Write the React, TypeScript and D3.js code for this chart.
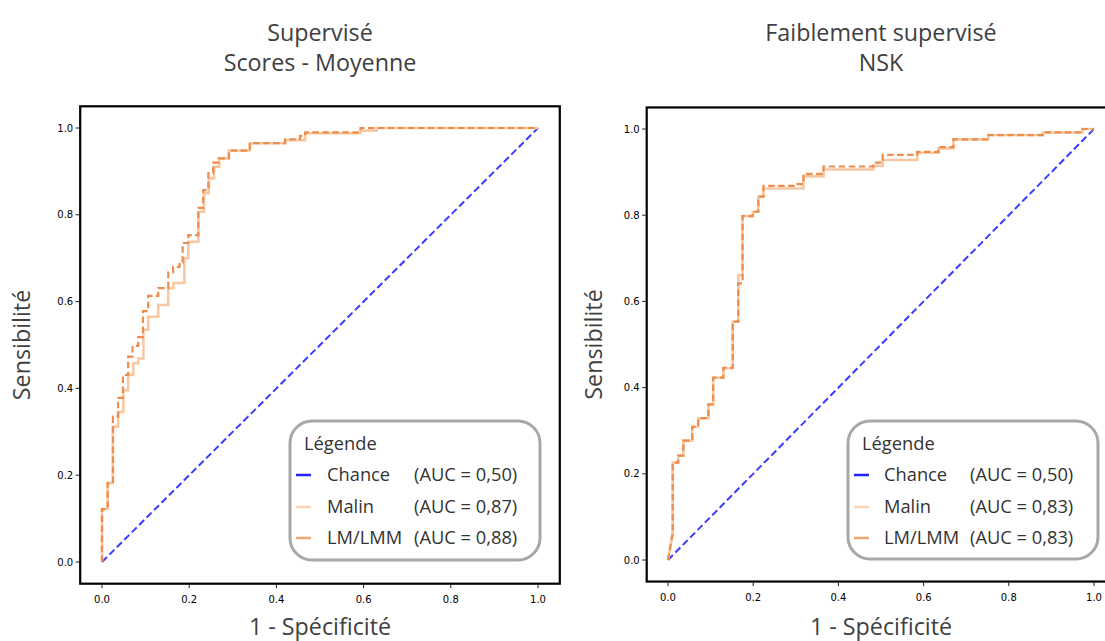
import React from "react";
import * as d3 from "d3";

type Pt = [number, number];

// ---------- DATA ----------
const xTicks = [0, 0.2, 0.4, 0.6, 0.8, 1.0];
const yTicks = [0, 0.2, 0.4, 0.6, 0.8, 1.0];

const chanceCurve: Pt[] = [[0, 0], [1, 1]];

// Supervisé – Scores - Moyenne
const supMalin: Pt[] = [
  [0, 0], [0, 0.122], [0.013, 0.122], [0.013, 0.182], [0.025, 0.182], [0.025, 0.312],
  [0.037, 0.312], [0.037, 0.346], [0.049, 0.346], [0.049, 0.396], [0.06, 0.396],
  [0.06, 0.431], [0.072, 0.431], [0.072, 0.458], [0.083, 0.458], [0.083, 0.469],
  [0.095, 0.469], [0.095, 0.535], [0.106, 0.535], [0.106, 0.565], [0.129, 0.565],
  [0.129, 0.592], [0.152, 0.592], [0.152, 0.631], [0.164, 0.631], [0.164, 0.643],
  [0.189, 0.643], [0.189, 0.70], [0.198, 0.70], [0.198, 0.738], [0.221, 0.738],
  [0.221, 0.807], [0.234, 0.807], [0.234, 0.85], [0.245, 0.85], [0.245, 0.884],
  [0.257, 0.884], [0.257, 0.911], [0.269, 0.911], [0.269, 0.93], [0.291, 0.93],
  [0.291, 0.948], [0.339, 0.948], [0.339, 0.965], [0.42, 0.965], [0.42, 0.972],
  [0.466, 0.972], [0.466, 0.988], [0.593, 0.988], [0.593, 0.994], [0.63, 0.994],
  [0.63, 1.0], [1, 1],
];
const supLm: Pt[] = [
  [0, 0], [0, 0.122], [0.013, 0.122], [0.013, 0.182], [0.025, 0.182], [0.025, 0.335],
  [0.037, 0.335], [0.037, 0.378], [0.048, 0.378], [0.048, 0.431], [0.06, 0.431],
  [0.06, 0.473], [0.07, 0.473], [0.07, 0.498], [0.083, 0.498], [0.083, 0.518],
  [0.094, 0.518], [0.094, 0.578], [0.106, 0.578], [0.106, 0.613], [0.129, 0.613],
  [0.129, 0.631], [0.152, 0.631], [0.152, 0.667], [0.163, 0.667], [0.163, 0.68],
  [0.178, 0.68], [0.178, 0.69], [0.185, 0.69], [0.185, 0.735], [0.198, 0.735],
  [0.198, 0.753], [0.221, 0.753], [0.221, 0.816], [0.232, 0.816], [0.232, 0.857],
  [0.244, 0.857], [0.244, 0.896], [0.255, 0.896], [0.255, 0.92], [0.267, 0.92],
  [0.267, 0.93], [0.291, 0.93], [0.291, 0.948], [0.339, 0.948], [0.339, 0.965],
  [0.42, 0.965], [0.42, 0.974], [0.454, 0.974], [0.454, 0.982], [0.466, 0.982],
  [0.466, 0.99], [0.593, 0.99], [0.593, 1.0], [1, 1],
];

// Faiblement supervisé – NSK
const wsMalin: Pt[] = [
  [0, 0], [0.011, 0.062], [0.011, 0.226], [0.024, 0.226], [0.024, 0.242], [0.036, 0.242],
  [0.036, 0.277], [0.057, 0.277], [0.057, 0.309], [0.071, 0.309], [0.071, 0.329],
  [0.095, 0.329], [0.095, 0.361], [0.106, 0.361], [0.106, 0.423], [0.13, 0.423],
  [0.13, 0.445], [0.152, 0.445], [0.152, 0.553], [0.165, 0.553], [0.165, 0.661],
  [0.175, 0.661], [0.175, 0.798], [0.199, 0.798], [0.199, 0.808], [0.212, 0.808],
  [0.212, 0.843], [0.224, 0.843], [0.224, 0.862], [0.318, 0.862], [0.318, 0.89],
  [0.365, 0.89], [0.365, 0.906], [0.482, 0.906], [0.482, 0.914], [0.504, 0.914],
  [0.504, 0.928], [0.585, 0.928], [0.585, 0.945], [0.635, 0.945], [0.635, 0.955],
  [0.67, 0.955], [0.67, 0.976], [0.752, 0.976], [0.752, 0.986], [0.88, 0.986],
  [0.88, 0.992], [0.973, 0.992], [0.973, 1.0], [1, 1],
];
const wsLm: Pt[] = [
  [0, 0], [0.011, 0.062], [0.011, 0.226], [0.024, 0.226], [0.024, 0.242], [0.036, 0.242],
  [0.036, 0.277], [0.057, 0.277], [0.057, 0.309], [0.071, 0.309], [0.071, 0.329],
  [0.095, 0.329], [0.095, 0.361], [0.106, 0.361], [0.106, 0.423], [0.13, 0.423],
  [0.13, 0.446], [0.152, 0.446], [0.152, 0.553], [0.165, 0.553], [0.165, 0.642],
  [0.175, 0.642], [0.175, 0.798], [0.199, 0.798], [0.199, 0.808], [0.212, 0.808],
  [0.212, 0.843], [0.224, 0.843], [0.224, 0.868], [0.295, 0.868], [0.295, 0.872],
  [0.318, 0.872], [0.318, 0.896], [0.365, 0.896], [0.365, 0.913], [0.482, 0.913],
  [0.482, 0.922], [0.504, 0.922], [0.504, 0.94], [0.585, 0.94], [0.585, 0.947],
  [0.635, 0.947], [0.635, 0.958], [0.67, 0.958], [0.67, 0.976], [0.752, 0.976],
  [0.752, 0.986], [0.88, 0.986], [0.88, 0.992], [0.973, 0.992], [0.973, 1.0], [1, 1],
];

const seriesNames = ["Chance", "Malin", "LM/LMM"];
const supAuc = ["(AUC = 0,50)", "(AUC = 0,87)", "(AUC = 0,88)"];
const wsAuc = ["(AUC = 0,50)", "(AUC = 0,83)", "(AUC = 0,83)"];
const supTitle = ["Supervisé", "Scores - Moyenne"];
const wsTitle = ["Faiblement supervisé", "NSK"];
const xLabel = "1 - Spécificité";
const yLabel = "Sensibilité";
const legendTitle = "Légende";

// ---------- STYLE ----------
const FONT = "'Open Sans', 'Noto Sans', sans-serif";
const TEXT = "#404040";
const C_CHANCE = "#3b3bff";
const C_MALIN = "#f8c8a2";
const C_LM = "#ee8d4b";
const legendColors = ["#2323ff", "#f9d3b5", "#f2a772"];
const BIG = 23.3;
const LEG = 18.3;

type PanelProps = {
  xr: [number, number];
  yr: [number, number];
  malin: Pt[];
  lm: Pt[];
  titles: string[];
  auc: string[];
  legend: { x: number; y: number; w: number; h: number; tx: number; ax: number };
  ylabX: number;
};

function Panel({ xr, yr, malin, lm, titles, auc, legend, ylabX }: PanelProps) {
  const x = d3.scaleLinear().domain([0, 1]).range(xr);
  const y = d3.scaleLinear().domain([0, 1]).range(yr);
  const line = d3.line<Pt>().x((d) => x(d[0])).y((d) => y(d[1]));
  const fx0 = x(-0.05), fx1 = x(1.05), fy0 = y(1.05), fy1 = y(-0.05);
  const cx = (fx0 + fx1) / 2;
  const cy = (fy0 + fy1) / 2;
  const fmt = d3.format(".1f");
  const rows = [legend.y + 60, legend.y + 92, legend.y + 123];
  return (
    <g>
      {titles.map((t, i) => (
        <text key={t} x={cx} y={41 + i * 30} textAnchor="middle" fontFamily={FONT} fontSize={BIG} fill={TEXT}>
          {t}
        </text>
      ))}
      <rect x={fx0} y={fy0} width={fx1 - fx0} height={fy1 - fy0} fill="#fff" />
      <path d={line(chanceCurve) || ""} fill="none" stroke={C_CHANCE} strokeWidth={2} strokeDasharray="7,3.5" />
      <path d={line(malin) || ""} fill="none" stroke={C_MALIN} strokeWidth={2.6} />
      <path d={line(lm) || ""} fill="none" stroke={C_LM} strokeWidth={2.2} strokeDasharray="6.5,3.5" />
      <rect x={fx0} y={fy0} width={fx1 - fx0} height={fy1 - fy0} fill="none" stroke="#000" strokeWidth={2.2} />
      {xTicks.map((t) => (
        <g key={"x" + t}>
          <line x1={x(t)} x2={x(t)} y1={fy1 + 1} y2={fy1 + 4.5} stroke="#000" strokeWidth={0.9} />
          <text x={x(t)} y={fy1 + 19} textAnchor="middle" fontFamily="'DejaVu Sans', sans-serif" fontSize={10} fill="#000">
            {fmt(t)}
          </text>
        </g>
      ))}
      {yTicks.map((t) => (
        <g key={"y" + t}>
          <line x1={fx0 - 1} x2={fx0 - 4.5} y1={y(t)} y2={y(t)} stroke="#000" strokeWidth={0.9} />
          <text x={fx0 - 7} y={y(t) + 3.6} textAnchor="end" fontFamily="'DejaVu Sans', sans-serif" fontSize={10} fill="#000">
            {fmt(t)}
          </text>
        </g>
      ))}
      <text x={cx} y={635} textAnchor="middle" fontFamily={FONT} fontSize={BIG} fill={TEXT}>
        {xLabel}
      </text>
      <text transform={`translate(${ylabX},${cy}) rotate(-90)`} textAnchor="middle" fontFamily={FONT} fontSize={BIG} fill={TEXT}>
        {yLabel}
      </text>
      <rect x={legend.x} y={legend.y} width={legend.w} height={legend.h} rx={22} ry={22} fill="#fff" stroke="#a8a8a8" strokeWidth={3} />
      <text x={legend.x + 14} y={legend.y + 29} fontFamily={FONT} fontSize={LEG} fill="#333">
        {legendTitle}
      </text>
      {seriesNames.map((n, i) => (
        <g key={n}>
          <line x1={legend.x + 6} x2={legend.x + 21} y1={rows[i] - 6} y2={rows[i] - 6} stroke={legendColors[i]} strokeWidth={2.5} />
          <text x={legend.tx} y={rows[i]} fontFamily={FONT} fontSize={LEG} fill="#333">
            {n}
          </text>
          <text x={legend.ax} y={rows[i]} fontFamily={FONT} fontSize={LEG} fill="#333">
            {auc[i]}
          </text>
        </g>
      ))}
    </g>
  );
}

export default function App() {
  return (
    <svg
      width={1105}
      height={641}
      style={{ position: "absolute", left: 0, top: 0, display: "block", background: "#fff" }}
    >
      <rect width={1105} height={641} fill="#fff" />
      <Panel
        xr={[102, 538]}
        yr={[562, 128]}
        malin={supMalin}
        lm={supLm}
        titles={supTitle}
        auc={supAuc}
        legend={{ x: 290, y: 421, w: 250, h: 139, tx: 327, ax: 414 }}
        ylabX={30}
      />
      <Panel
        xr={[668, 1094]}
        yr={[560, 129]}
        malin={wsMalin}
        lm={wsLm}
        titles={wsTitle}
        auc={wsAuc}
        legend={{ x: 848, y: 421, w: 250, h: 138, tx: 884, ax: 970 }}
        ylabX={602}
      />
    </svg>
  );
}
